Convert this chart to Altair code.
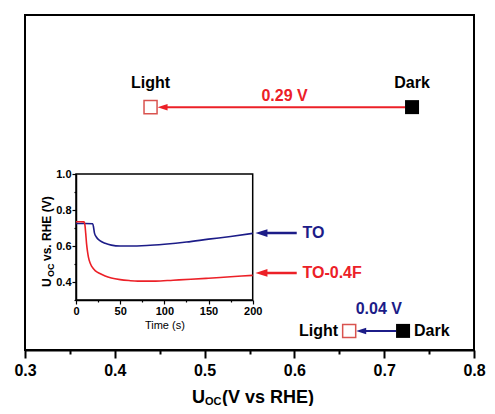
import altair as alt
import pandas as pd

FONT = "Liberation Sans"
NAVY = "#1c1c88"
RED = "#ec2027"
LIGHT_RED = "#d9534f"

# ---------------- main panel ----------------
x_domain = [0.3, 0.8]
y_domain = [0.0, 1.0]
x_tick_values = [0.3, 0.35, 0.4, 0.45, 0.5, 0.55, 0.6, 0.65, 0.7, 0.75, 0.8]

row_names = ["TO-0.4F", "TO"]
light_x = [0.4398, 0.661]
dark_x = [0.731, 0.721]
row_y = [0.725, 0.057]
row_colors = [RED, NAVY]
shift_text = ["0.29 V", "0.04 V"]
shift_x = [0.589, 0.694]
shift_y = [0.757, 0.122]

# ---------------- inset ----------------
t_domain = [0, 200]
u_domain = [0.3, 1.0]
t_tick_values = [0, 25, 50, 75, 100, 125, 150, 175, 200]
u_tick_values = [0.3, 0.4, 0.5, 0.6, 0.7, 0.8, 0.9, 1.0]

time_to = [0, 10, 19, 20, 21, 23, 27, 33, 40, 50, 60, 80, 100, 125, 150, 175, 200]
u_to = [0.725, 0.725, 0.724, 0.70, 0.67, 0.65, 0.63, 0.615, 0.605, 0.60, 0.60,
        0.603, 0.61, 0.622, 0.638, 0.653, 0.67]
time_f = [0, 5, 9, 10, 11, 12, 13, 14, 16, 18, 22, 27, 33, 40, 50, 60, 70, 90,
          110, 130, 150, 175, 200]
u_f = [0.735, 0.735, 0.734, 0.72, 0.67, 0.61, 0.57, 0.54, 0.505, 0.485, 0.462,
       0.447, 0.433, 0.422, 0.413, 0.408, 0.405, 0.405, 0.41, 0.415, 0.421,
       0.429, 0.437]

legend_names = ["TO", "TO-0.4F"]
legend_colors = [NAVY, RED]
legend_y = [0.349, 0.230]
legend_tip = 0.5566
legend_tail = 0.6026
legend_text_x = 0.609

x_title_parts = ["U", "OC", "(V vs RHE)"]
y_title_parts = ["U", "OC", "vs. RHE (V)"]

W, H = 449, 335
PX = W / (x_domain[1] - x_domain[0])  # pixels per data unit

HEAD = "M -1 0 L 1 -0.65 L 1 0.65 Z"

main_axis = alt.Axis(
    values=x_tick_values,
    labelExpr="round(datum.value*100) % 10 === 0 ? format(datum.value, '.1f') : ''",
    tickSize={"condition": {"test": "round(datum.value*100) % 10 === 0", "value": 8}, "value": 4},
    tickColor="black", tickWidth=2, domainColor="black", domainWidth=2,
    labelFont=FONT, labelFontSize=16, labelFontWeight="bold", labelColor="black",
    labelPadding=4, grid=False, title=None, orient="bottom", labelFlush=False,
)
mscale_x = alt.Scale(domain=x_domain, nice=False, zero=False)
mscale_y = alt.Scale(domain=y_domain, nice=False, zero=False)
mx = lambda f: alt.X(f"{f}:Q", scale=mscale_x, axis=main_axis)
my = lambda f="y": alt.Y(f"{f}:Q", scale=mscale_y, axis=None)

rows = pd.DataFrame({
    "name": row_names, "light": light_x, "dark": dark_x, "y": row_y, "color": row_colors,
})
rows["head"] = rows["light"] + 12.0 / PX
rows["tail"] = rows["dark"] - 7.0 / PX

arrow_lines = alt.Chart(rows).mark_rule(strokeWidth=2).encode(
    x=mx("head"), x2="tail:Q", y=my("y"),
    color=alt.Color("color:N", scale=None),
)
arrow_heads = alt.Chart(rows).mark_point(shape=HEAD, size=100, filled=True, opacity=1).encode(
    x=mx("head"), y=my("y"), color=alt.Color("color:N", scale=None),
)
dark_sq = alt.Chart(rows).mark_point(shape="square", size=196, filled=True, color="black", opacity=1).encode(
    x=mx("dark"), y=my("y"),
)
light_sq = alt.Chart(rows).mark_point(shape="square", size=170, filled=True, fill="white",
                                      stroke=LIGHT_RED, strokeWidth=1.5, opacity=1).encode(
    x=mx("light"), y=my("y"),
)

txt = dict(font=FONT, fontSize=16, fontWeight="bold")
top = rows.iloc[[0]]
bot = rows.iloc[[1]]
light_top = alt.Chart(top).mark_text(text="Light", dy=-24, color="black", **txt).encode(x=mx("light"), y=my("y"))
dark_top = alt.Chart(top).mark_text(text="Dark", dy=-24, color="black", **txt).encode(x=mx("dark"), y=my("y"))
light_bot = alt.Chart(bot).mark_text(text="Light", dx=-11, align="right", color="black", **txt).encode(x=mx("light"), y=my("y"))
dark_bot = alt.Chart(bot).mark_text(text="Dark", dx=11, align="left", color="black", **txt).encode(x=mx("dark"), y=my("y"))

shifts = pd.DataFrame({"t": shift_text, "x": shift_x, "y": shift_y, "color": row_colors})
shift_labels = alt.Chart(shifts).mark_text(**txt).encode(
    x=mx("x"), y=my("y"), text="t:N", color=alt.Color("color:N", scale=None),
)

leg = pd.DataFrame({"name": legend_names, "y": legend_y, "color": legend_colors})
leg["tail"] = legend_tail
leg["hx"] = legend_tip + 6.0 / PX
leg["tx"] = legend_text_x
leg_lines = alt.Chart(leg).mark_rule(strokeWidth=2.5).encode(
    x=mx("hx"), x2="tail:Q", y=my("y"), color=alt.Color("color:N", scale=None))
leg_heads = alt.Chart(leg).mark_point(shape=HEAD, size=144, filled=True, opacity=1).encode(
    x=mx("hx"), y=my("y"), color=alt.Color("color:N", scale=None))
leg_text = alt.Chart(leg).mark_text(align="left", **txt).encode(
    x=mx("tx"), y=my("y"), text="name:N", color=alt.Color("color:N", scale=None))

main = alt.layer(arrow_lines, arrow_heads, dark_sq, light_sq, light_top, dark_top,
                 light_bot, dark_bot, shift_labels, leg_lines, leg_heads, leg_text)

# ---------------- inset layers ----------------
IX_RANGE = [51, 227.7]
IY_RANGE = [285, 159]
ix_scale = alt.Scale(domain=t_domain, range=IX_RANGE, nice=False, zero=False)
iy_scale = alt.Scale(domain=u_domain, range=IY_RANGE, nice=False, zero=False)

inset_x_axis = alt.Axis(
    values=t_tick_values, orient="bottom", offset=IY_RANGE[0] - H,
    labelExpr="datum.value % 50 === 0 ? format(datum.value, 'd') : ''",
    tickSize={"condition": {"test": "datum.value % 50 === 0", "value": 4}, "value": 2},
    tickColor="black", tickWidth=1.2, domainColor="black", domainWidth=1.5,
    labelFont=FONT, labelFontSize=11, labelFontWeight="bold", labelColor="black",
    labelPadding=1, labelFlush=False, grid=False,
    title="Time (s)", titleFont=FONT, titleFontSize=11, titleFontWeight="normal",
    titleColor="black", titlePadding=3,
)
inset_y_axis = alt.Axis(
    values=u_tick_values, orient="left", offset=-IX_RANGE[0],
    labelExpr="round(datum.value*10) % 2 === 0 ? format(datum.value, '.1f') : ''",
    tickSize={"condition": {"test": "round(datum.value*10) % 2 === 0", "value": 4}, "value": 2},
    tickColor="black", tickWidth=1.2, domainColor="black", domainWidth=1.5,
    labelFont=FONT, labelFontSize=11, labelFontWeight="bold", labelColor="black",
    labelPadding=1, labelFlush=False, grid=False, title=None,
)
ix = lambda f: alt.X(f"{f}:Q", scale=ix_scale, axis=inset_x_axis)
iy = lambda f: alt.Y(f"{f}:Q", scale=iy_scale, axis=inset_y_axis)

frame = pd.DataFrame({"t0": [t_domain[0]], "t1": [t_domain[1]], "u0": [u_domain[0]], "u1": [u_domain[1]]})
inset_frame = alt.Chart(frame).mark_rect(fillOpacity=0, stroke="black", strokeWidth=1.5).encode(
    x=ix("t0"), x2="t1:Q", y=iy("u0"), y2="u1:Q",
)

series = pd.concat([
    pd.DataFrame({"t": time_to, "u": u_to, "s": "TO"}),
    pd.DataFrame({"t": time_f, "u": u_f, "s": "TO-0.4F"}),
])
inset_lines = alt.Chart(series).mark_line(strokeWidth=1.6, interpolate="monotone").encode(
    x=ix("t"), y=iy("u"),
    color=alt.Color("s:N", scale=alt.Scale(domain=legend_names, range=legend_colors), legend=None),
    detail="s:N",
)

inset = alt.layer(inset_frame, inset_lines)

# ---------------- titles with subscripts (pixel placed) ----------------
tdf = pd.DataFrame({"a": [0]})
def piece(text, x, y, size, angle=0):
    return alt.Chart(tdf).mark_text(text=text, align="left", baseline="middle", font=FONT,
                                    fontWeight="bold", fontSize=size, angle=angle,
                                    color="black").encode(x=alt.value(x), y=alt.value(y))

xt = [piece(x_title_parts[0], 167, 383, 18),
      piece(x_title_parts[1], 180, 387, 11),
      piece(x_title_parts[2], 197, 383, 18)]
yt = [piece(y_title_parts[0], 22, 272, 12, 270),
      piece(y_title_parts[1], 26, 262, 9, 270),
      piece(y_title_parts[2], 22, 246, 12, 270)]

chart = alt.layer(main, inset, *xt, *yt).resolve_scale(x="independent", y="independent").properties(
    width=W, height=H,
    autosize=alt.AutoSizeParams(type="none"),
    padding={"left": 17, "top": 7, "right": 13, "bottom": 56},
).configure(background="white").configure_view(stroke="black", strokeWidth=2)

chart.save("out.html", embed_options={"renderer": "svg", "actions": False})
